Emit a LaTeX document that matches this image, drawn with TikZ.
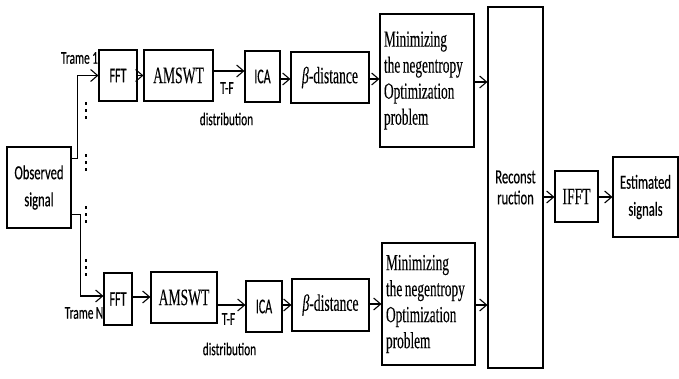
\documentclass[tikz,border=0pt]{standalone}
\usepackage{fontspec}
\usetikzlibrary{arrows.meta,calc}
\newfontfamily\sfc[FakeStretch=0.63,FakeBold=0.3]{Carlito}
\newfontfamily\sfn[FakeStretch=0.57,FakeBold=0.3]{Carlito}
\newfontfamily\srf[FakeStretch=0.58,FakeBold=0.15]{Liberation Serif}
\newcommand\labfont{\sfc\fontsize{18}{20}\selectfont}
\newcommand\minfont{\srf\fontsize{23}{26}\selectfont}
\newcommand\wsp{\kern2.5pt}
\begin{document}
\begin{tikzpicture}[x=1pt,y=-1pt,
  box/.style={draw=black,line width=1.1pt,fill=white,inner sep=0pt,align=center},
  arr/.style={line width=1.1pt,-{Straight Barb[length=7pt,width=12pt,line width=1.1pt]}},
  sbox/.style={font=\sfn\fontsize{21}{24}\selectfont},
  sbig/.style={font=\sfc\fontsize{20}{27}\selectfont},
  slab/.style={font=\labfont},
  tbox/.style={font=\srf\fontsize{23.5}{26}\selectfont},
  mbox/.style={box,font=\minfont,align=left,text width=86pt,inner xsep=4pt},
  dots/.style={line width=1.6pt,dash pattern=on 3pt off 4pt}]
\useasboundingbox (0,0) rectangle (679,379);
% labels (drawn first so boxes cover their ends)
\node[slab] (tr1) at (79.5,58) {Trame\wsp1};
\node[slab] (trN) at (84,313) {Trame\wsp N};
\node[slab] (tf1) at (227,88) {T-F};
\node[slab] (di1) at (226.5,119) {distribution};
\node[slab] (tf2) at (228.5,319) {T-F};
\node[slab] (di2) at (229.5,349) {distribution};
% boxes
\node[box,sbig,minimum width=64pt,minimum height=81pt] (obs) at (39,187.5) {Observed\\signal};
\node[box,sbox,minimum width=38pt,minimum height=51pt] (fft1) at (118,75.5) {FFT};
\node[box,tbox,minimum width=69pt,minimum height=51pt] (am1) at (178.5,75.5) {AMSWT};
\node[box,sbox,minimum width=35pt,minimum height=51pt] (ica1) at (262.5,76.5) {ICA};
\node[box,tbox,minimum width=78pt,minimum height=51pt] (b1) at (330,77.5) {{\itshape β}-distance};
\node[mbox,minimum height=133pt] (min1) at (427,80.5) {Minimizing\\the\wsp negentropy\\Optimization\\problem};
\node[box,sbox,minimum width=28pt,minimum height=52pt] (fft2) at (118,299) {FFT};
\node[box,tbox,minimum width=66pt,minimum height=51pt] (am2) at (184,297.5) {AMSWT};
\node[box,sbox,minimum width=36pt,minimum height=51pt] (ica2) at (264,306.5) {ICA};
\node[box,tbox,minimum width=77pt,minimum height=52pt] (b2) at (330.5,305) {{\itshape β}-distance};
\node[mbox,text width=85pt,minimum height=122pt] (min2) at (428.5,304) {Minimizing\\the\wsp negentropy\\Optimization\\problem};
\node[box,font=\sfc\fontsize{20}{21}\selectfont,minimum width=55pt,minimum height=361pt] (rec) at (515.5,187.5) {Reconst\\ruction};
\node[box,tbox,minimum width=43pt,minimum height=51pt] (ifft) at (576.5,196.5) {IFFT};
\node[box,sbig,minimum width=65pt,minimum height=80pt] (est) at (645.5,197) {Estimated\\signals};
% connectors
\draw[arr] ([yshift=-12pt]obs.north east) -- ++(6,0) |- (fft1.west);
\draw[arr] ([yshift=14pt]obs.south east) -- ++(9,0) |- ([yshift=3pt]fft2.west);
\draw[arr] (fft1.east) -- (am1.west);
\draw[arr] (am1.east |- 0,71) -- (ica1.west |- 0,71);
\draw[arr] (ica1.east |- 0,79) -- (b1.west |- 0,79);
\draw[arr] (b1.east |- 0,79) -- (min1.west |- 0,79);
\draw[arr] (min1.east |- 0,82) -- (rec.west |- 0,82);
\draw[arr] (fft2.east |- 0,297) -- (am2.west |- 0,297);
\draw[arr] (am2.east |- 0,305) -- (ica2.west |- 0,305);
\draw[arr] (ica2.east |- 0,305) -- (b2.west |- 0,305);
\draw[arr] (b2.east |- 0,304) -- (min2.west |- 0,304);
\draw[arr] (min2.east |- 0,305) -- (rec.west |- 0,305);
\draw[arr] (rec.east |- 0,197) -- (ifft.west |- 0,197);
\draw[arr] (ifft.east |- 0,197) -- (est.west |- 0,197);
% vertical dots
\draw[dots] (86,102.5) -- (86,120);
\draw[dots] (86,154.5) -- (86,172);
\draw[dots] (86,206.5) -- (86,224);
\draw[dots] (86,259) -- (86,276.5);
\end{tikzpicture}
\end{document}
